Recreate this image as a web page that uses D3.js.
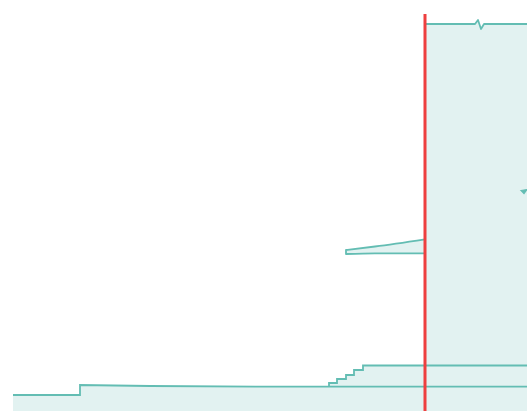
<!DOCTYPE html>
<html>
<head>
<meta charset="utf-8">
<script src="https://cdn.jsdelivr.net/npm/d3@7"></script>
<style>
  html, body { margin: 0; padding: 0; background: #fff; }
  svg { display: block; }
</style>
</head>
<body>
<div id="chart"></div>
<script>
// Data (x, value) in chart units
const seriesLow = [[1.3, 1.6], [8.0, 1.6], [8.0, 2.6], [15.0, 2.5], [26.8, 2.43], [52.7, 2.43]];
const seriesSteps = [[32.9, 2.43], [32.9, 2.8], [33.7, 3.2], [34.6, 3.6], [35.4, 4.1], [36.3, 4.55], [52.7, 4.55]];
const seriesHigh = [[42.5, 38.7], [47.5, 38.7], [47.8, 39.1], [48.1, 38.2], [48.4, 38.7], [52.7, 38.7]];
const wedgeX = [34.6, 37.5, 42.5];
const wedgeTop = [16.1, 16.45, 17.17];
const wedgeBottom = [15.7, 15.77, 15.77];
const markE = [[52.1, 22.05], [52.7, 22.15], [52.4, 21.75]];
const markerX = 42.5;
const markerTop = 39.7;

const W = 527, H = 411;
const x = d3.scaleLinear().domain([0, 52.7]).range([0, W]);
const y = d3.scaleLinear().domain([0, 41.1]).range([H, 0]);

const fillCol = "#e2f2f1";
const strokeCol = "#63bdb3";

const svg = d3.select("#chart").append("svg").attr("width", W).attr("height", H);

const areaStep = d3.area().x(d => x(d[0])).y0(y(-1)).y1(d => y(d[1])).curve(d3.curveStepAfter);
const lineStep = d3.line().x(d => x(d[0])).y(d => y(d[1])).curve(d3.curveStepAfter);
const areaLin = d3.area().x(d => x(d[0])).y0(y(-1)).y1(d => y(d[1]));
const lineLin = d3.line().x(d => x(d[0])).y(d => y(d[1]));

const wedge = wedgeX.map((v, i) => ({x: v, t: wedgeTop[i], b: wedgeBottom[i]}));
const wedgeArea = d3.area().x(d => x(d.x)).y0(d => y(d.b)).y1(d => y(d.t)).curve(d3.curveMonotoneX);

const gF = svg.append("g");
const gS = svg.append("g");

// fills
gF.append("path").attr("d", areaLin(seriesHigh)).attr("fill", fillCol);
gF.append("path").attr("d", areaStep(seriesSteps)).attr("fill", fillCol);
gF.append("path").attr("d", areaLin(seriesLow)).attr("fill", fillCol);
gF.append("path").attr("d", wedgeArea(wedge)).attr("fill", fillCol);

// strokes
const sw = 1.8;
gS.append("path").attr("d", lineLin(seriesHigh)).attr("fill", "none")
  .attr("stroke", strokeCol).attr("stroke-width", sw).attr("stroke-linejoin", "round");
gS.append("path").attr("d", lineStep(seriesSteps)).attr("fill", "none")
  .attr("stroke", strokeCol).attr("stroke-width", sw);
gS.append("path").attr("d", lineLin(seriesLow)).attr("fill", "none")
  .attr("stroke", strokeCol).attr("stroke-width", sw);
gS.append("path").attr("d", wedgeArea(wedge)).attr("fill", "none")
  .attr("stroke", strokeCol).attr("stroke-width", sw).attr("stroke-linejoin", "round");
gS.append("path").attr("d", lineLin(markE) + "Z").attr("fill", strokeCol)
  .attr("stroke", strokeCol).attr("stroke-width", 1.2);

// marker
svg.append("line")
  .attr("x1", x(markerX)).attr("x2", x(markerX))
  .attr("y1", y(markerTop)).attr("y2", y(-1))
  .attr("stroke", "#ee3f3f").attr("stroke-width", 3);
</script>
</body>
</html>
